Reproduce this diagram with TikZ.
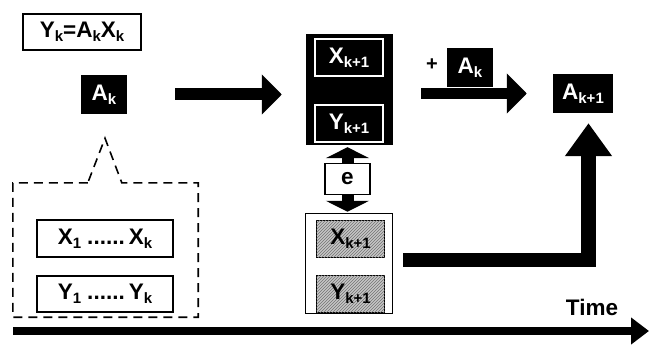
\documentclass[tikz,border=0pt]{standalone}
\usepackage{fontspec}
\setmainfont{Liberation Sans}
\usetikzlibrary{arrows.meta,calc,patterns,positioning}

% lowered index in the bold labels
\newcommand{\lowsub}[1]{\raisebox{-4pt}{\fontsize{15}{15}\selectfont #1}}

\begin{document}
\begin{tikzpicture}[x=1pt,y=-1pt,
  every node/.style={font=\bfseries\fontsize{22.5}{26}\selectfont,inner sep=0pt},
  blackbox/.style={fill=black,text=white,minimum width=46pt,minimum height=39pt},
  innerbox/.style={fill=black,text=white,draw=white,line width=1.5pt,minimum width=68pt,minimum height=37pt},
  whitebox/.style={draw=black,fill=white,line width=1.8pt},
  hatchbox/.style={draw=black,line width=1pt,fill=gray!45,minimum width=68pt,minimum height=37pt,
    postaction={pattern=north east lines,pattern color=gray!90!black}},
  callout/.style={draw=black,line width=1.6pt,dash pattern=on 9pt off 6pt},
  fatarrow/.style={line width=12pt,-{Triangle[width=39pt,length=20pt]}},
  twoarrow/.style={line width=12pt,-{Triangle[width=43pt,length=11pt]}},
  axis/.style={line width=8pt,-{Triangle[width=26pt,length=18pt]}}]
  \useasboundingbox (0,0) rectangle (649,345);

  % model and current estimate
  \node[whitebox,minimum width=118pt,minimum height=36pt] (formula) at (82,32)
    {Y\lowsub{k}=A\lowsub{k}X\lowsub{k}};
  \node[blackbox] (ak) at (104,94.5) {A\lowsub{k}};

  % stored history
  \node[minimum width=185pt,minimum height=134pt] (hist) at (105.5,250) {};
  \draw[callout] ($(hist.north west)+(75,0)$) -- (hist.north west) -- (hist.south west)
    -- (hist.south east) -- (hist.north east) -- ($(hist.north west)+(109,0)$)
    -- ($(ak.south)+(1,24)$) -- cycle;
  \node[whitebox,minimum width=136pt,minimum height=37pt] (xhist) at (105,238.5)
    {X\lowsub{1}\hspace{6pt}......\hspace{4pt}X\lowsub{k}};
  \node[whitebox,minimum width=136pt,minimum height=36pt] (yhist) at (105,294)
    {Y\lowsub{1}\hspace{6pt}......\hspace{4pt}Y\lowsub{k}};

  % new data
  \node[fill=black,minimum width=87pt,minimum height=111pt] (bigbox) at (349.5,89.5) {};
  \node[innerbox] (xnext) at (349,57.5) {X\lowsub{k+1}};
  \node[innerbox] (ynext) at (349,123.5) {Y\lowsub{k+1}};

  \node[whitebox,line width=1.5pt,minimum width=45pt,minimum height=31pt] (ebox) at (347.5,179) {e};

  \node[draw=black,line width=1.5pt,minimum width=87pt,minimum height=100pt] (lowbox) at (349,263.5) {};
  \node[hatchbox] (xhat) at (350.5,239) {X\lowsub{k+1}};
  \node[hatchbox] (yhat) at (350.5,293.5) {Y\lowsub{k+1}};

  % update
  \node[blackbox] (akadd) at (470,67.5) {A\lowsub{k}};
  \node[font=\bfseries\fontsize{20}{22}\selectfont] (plus) at (432,65) {+};
  \node[blackbox,minimum width=60pt] (akone) at (583,93.5) {A\lowsub{k+1}};

  \draw[fatarrow,shorten <=48pt,shorten >=24pt] (ak.east) -- (ak.east -| bigbox.west);
  \draw[fatarrow,line width=11pt,shorten <=28pt,shorten >=26pt] (akone.west -| bigbox.east) -- (akone.west);
  \draw[twoarrow,shorten >=2pt] (ebox.north) -- (ebox.north |- bigbox.south);
  \draw[twoarrow,shorten >=1pt] (ebox.south) -- (ebox.south |- lowbox.north);
  \draw[line width=14.5pt,-{Triangle[width=45pt,length=33pt]},shorten <=10pt,shorten >=10pt]
    ([yshift=3.5pt]lowbox.east) -| ([xshift=5.5pt]akone.south);

  % time axis
  \node (time) at (592,307) {Time};
  \coordinate (t0) at (13,331);
  \coordinate (t1) at (649,331);
  \draw[axis] (t0) -- (t1);
\end{tikzpicture}
\end{document}
